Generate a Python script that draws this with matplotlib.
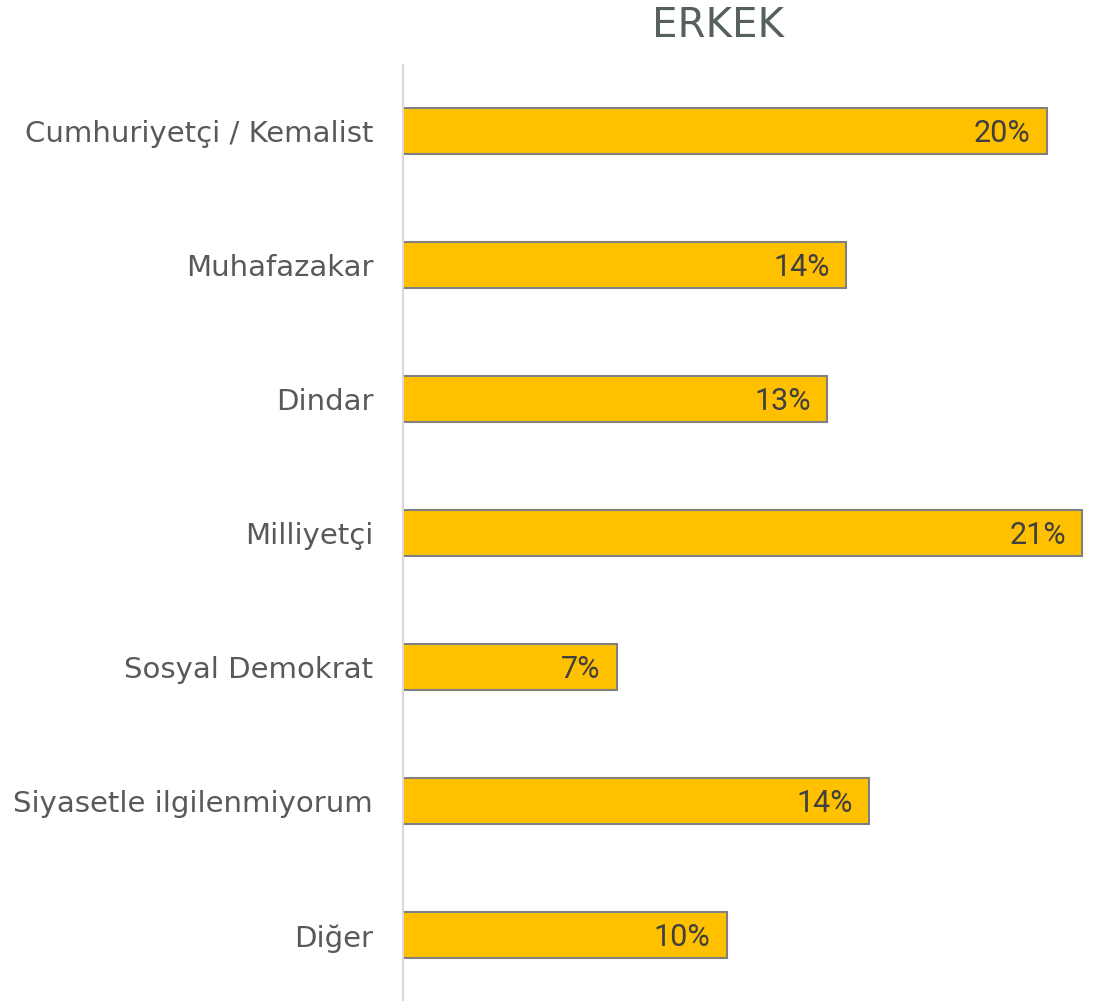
import matplotlib.pyplot as plt

# Chart data
categories = ['Cumhuriyetçi / Kemalist', 'Muhafazakar', 'Dindar', 'Milliyetçi',
              'Sosyal Demokrat', 'Siyasetle ilgilenmiyorum', 'Diğer']
values = [19.9, 13.7, 13.1, 21.0, 6.6, 14.4, 10.0]
value_labels = ['20%', '14%', '13%', '21%', '7%', '14%', '10%']
title = 'ERKEK'

plt.rcParams['font.family'] = ['DejaVu Sans']

fig = plt.figure(figsize=(11.07, 10.01), dpi=100)
ax = fig.add_axes([403 / 1107, 0.0, 681 / 1107, 936 / 1001])

ypos = list(range(len(categories)))
ax.barh(ypos, values, height=0.343, color='#FFC000', edgecolor='#808080', linewidth=1.5)

for y, v, lab in zip(ypos, values, value_labels):
    ax.text(v - 0.5, y + 0.02, lab, ha='right', va='center', fontsize=22,
            color='#404040', family=['Roboto', 'DejaVu Sans'])

ax.set_yticks(ypos)
ax.set_yticklabels(categories, fontsize=21, color='#595959')
ax.tick_params(axis='y', length=0, pad=21.5)
ax.set_xticks([])
ax.set_xlim(0, 21.05)
ax.set_ylim(6.49, -0.49)

for s in ['top', 'right', 'bottom']:
    ax.spines[s].set_visible(False)
ax.spines['left'].set_color('#d9d9d9')
ax.spines['left'].set_linewidth(1.5)

fig.text(718 / 1107, 1 - 26 / 1001, title, ha='center', va='center', fontsize=29, color='#56605f')

fig.savefig('out.png', dpi=100)
